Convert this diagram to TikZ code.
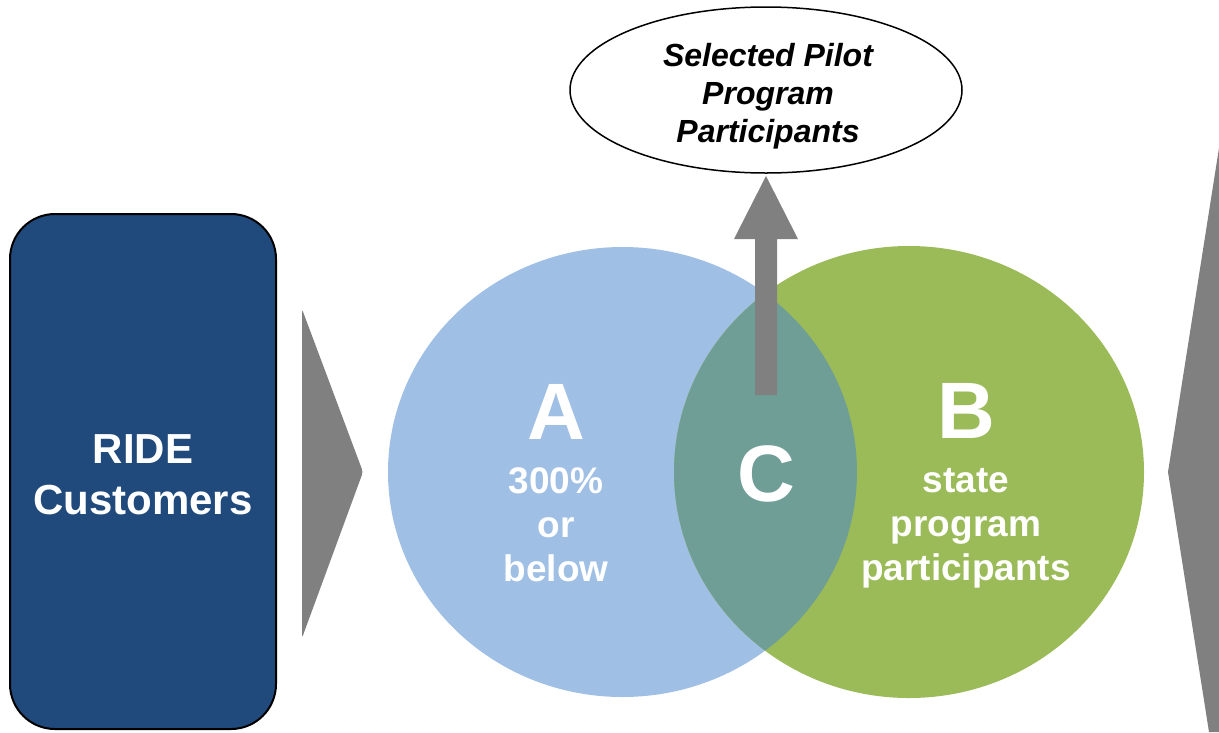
\documentclass[tikz,border=0pt]{standalone}
\usepackage{fontspec}
\setmainfont{Liberation Sans}
\usetikzlibrary{shapes.geometric}
\definecolor{ridebox}{HTML}{214A7C}
\definecolor{setA}{HTML}{A0BFE5}
\definecolor{setB}{HTML}{9BBB59}
\definecolor{setC}{HTML}{6F9E96}
\definecolor{chev}{HTML}{808080}
\tikzset{
  bigletter/.style={text=white,font=\fontsize{80}{90}\selectfont\bfseries},
  setlabel/.style={text=white,align=center,font=\fontsize{37}{44}\selectfont\bfseries},
  chevron/.style={fill=chev,draw=none},
}
\begin{document}
\begin{tikzpicture}[x=1pt,y=-1pt]
\path[use as bounding box] (0,0) rectangle (1219,732);
% RIDE customers box
\draw[line width=2pt,fill=ridebox,rounded corners=45pt] (10,214) rectangle (276,729);
\node[text=white,align=center,font=\fontsize{42}{51}\selectfont\bfseries] (ride) at (143,475) {RIDE\\Customers};
% chevrons
\fill[chevron,rounded corners=3pt] (302,309) -- (363,472) -- (302,638) -- cycle;
\fill[chevron] (1219,148) -- (1168,472) -- (1209,732) -- (1219,732) -- cycle;
% Venn circles
\fill[setA] (622.5,472) ellipse [x radius=234.5,y radius=225];
\fill[setB] (909,472) ellipse [x radius=235,y radius=226];
\begin{scope}
  \clip (622.5,472) ellipse [x radius=234.5,y radius=225];
  \fill[setC] (909,472) ellipse [x radius=235,y radius=226];
\end{scope}
% up arrow
\fill[chev] (755,395) -- (755,239) -- (734,239) -- (766,176) -- (798,239) -- (777,239) -- (777,395) -- cycle;
% ellipse
\draw[line width=1.5pt] (766,90) ellipse [x radius=196,y radius=83];
\node[align=center,font=\fontsize{32}{38}\selectfont\bfseries\itshape] (sel) at (768,96) {Selected Pilot\\Program\\Participants};
% labels
\node[bigletter] (A) at (556,412) {A};
\node[bigletter] (B) at (966,411) {B};
\node[bigletter] (C) at (766,474) {C};
\node[setlabel] (Atxt) at (556,525) {300\%\\or\\below};
\node[setlabel] (Btxt) at (966,528) {state\\program\\participants};
\end{tikzpicture}
\end{document}
